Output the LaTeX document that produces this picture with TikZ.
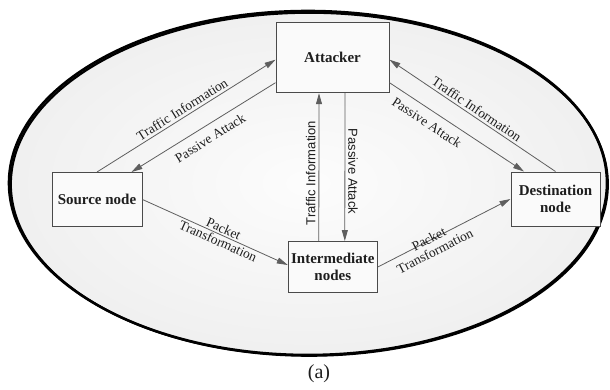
\documentclass[tikz,border=0pt]{standalone}
\usepackage{fontspec}
\setmainfont{Liberation Serif}
\setsansfont{Liberation Sans}
\usetikzlibrary{arrows.meta}
\definecolor{boxc}{HTML}{4A4A4A}
\definecolor{linec}{HTML}{5E5E5E}
\definecolor{txt}{HTML}{1E1E1E}
\begin{document}
\begin{tikzpicture}[x=1pt,y=-1pt,
  box/.style={draw=boxc, line width=1pt, fill=white!98!black, inner sep=0pt,
    font=\fontsize{15}{17}\selectfont\bfseries, text=txt, align=center},
  arr/.style={draw=linec, line width=0.8pt, -{Triangle[length=11pt,width=6pt]}},
  lbl/.style={font=\fontsize{13.5}{13.5}\selectfont, text=txt, sloped, inner sep=2.5pt},
  vlbl/.style={font=\sffamily\fontsize{13}{15}\selectfont, text=txt, inner sep=3pt}]
\fill[white] (0,0) rectangle (610,389);
\useasboundingbox (0,0) rectangle (610,389);
\fill[inner color=white!99!black, outer color=white!94!black]
  (308,183) ellipse [x radius=299, y radius=172];
\draw[line width=2.2pt] (309.3,184.2) ellipse [x radius=298.5, y radius=171.5];
\draw[line width=2.6pt] (308,183) ellipse [x radius=299, y radius=172];

\node[box, minimum width=113pt, minimum height=70pt] (att) at (332.5,57.7) {Attacker};
\node[box, minimum width=90pt, minimum height=54pt] (src) at (97,199.5) {Source node};
\node[box, minimum width=89pt, minimum height=51pt] (mid) at (332.8,267) {Intermediate\\nodes};
\node[box, minimum width=89pt, minimum height=54pt] (dst) at (555.5,199) {Destination\\node};

\draw[arr] (src.north) -- ([yshift=-2pt]att.west)
  node[lbl, midway, above] {Traffic Information};
\draw[arr] ([yshift=-25pt]att.west) -- ([xshift=34.5pt]src.north)
  node[lbl, midway, below=5pt] {Passive Attack};
\draw[arr] (src.east) -- ([yshift=2pt]mid.west)
  node[lbl, pos=0.54, align=center] {Packet\\Transformation};

\draw[arr] ([xshift=-14pt]mid.north) -- ([xshift=-13.5pt]att.south)
  node[vlbl, pos=0.46, rotate=90, anchor=south] {Traffic Information};
\draw[arr] ([xshift=12.5pt]att.south) -- ([xshift=12pt]mid.north)
  node[vlbl, pos=0.53, rotate=-90, anchor=south] {Passive Attack};

\draw[arr] (mid.east) -- (dst.west)
  node[lbl, pos=0.39, align=center, yshift=-5pt] {Packet\\Transformation};
\draw[arr] ([yshift=-25pt]att.east) -- ([xshift=-31.5pt]dst.north)
  node[lbl, pos=0.33, below=5pt] {Passive Attack};
\draw[arr] (dst.north) -- ([yshift=-2pt]att.east)
  node[lbl, midway, above] {Traffic Information};

\node[font=\fontsize{20}{24}\selectfont, text=txt] (cap) at (319,374) {(a)};
\end{tikzpicture}
\end{document}
